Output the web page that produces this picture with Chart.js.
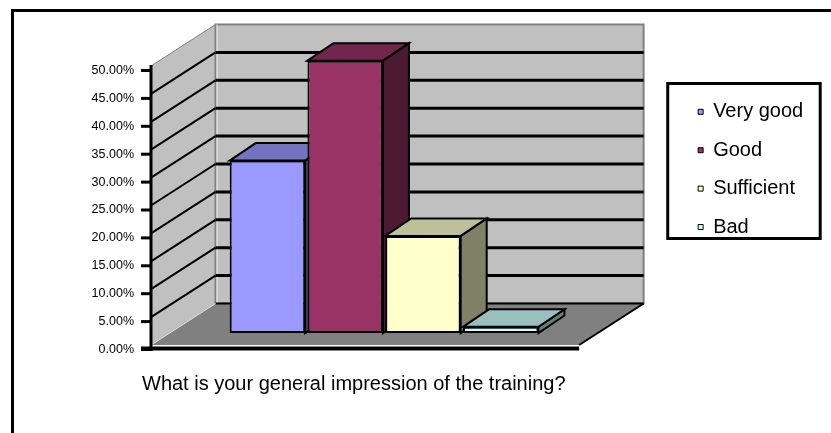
<!DOCTYPE html>
<html>
<head>
<meta charset="utf-8">
<script src="https://cdn.jsdelivr.net/npm/chart.js@4.4.1/dist/chart.umd.min.js"></script>
<style>
  html, body { margin: 0; padding: 0; background: #fff; }
</style>
</head>
<body>
<canvas id="barChart" width="831" height="433"></canvas>
<script>
var question = 'What is your general impression of the training?';
var answers = ['Very good', 'Good', 'Sufficient', 'Bad'];
var shares = [30.9, 48.8, 17.4, 1.1]; // % of answers
var frontColors = ['#9999FF', '#993366', '#FFFFCC', '#CCFFFF'];
var topColors = ['#7373BF', '#73264D', '#BFBF99', '#99BFBF'];
var sideColors = ['#4D4D80', '#4D1A33', '#808066', '#668080'];

// fake 3d, offsets from the plane the columns stand in
var front = { dx: -19, dy: 12 };
var back = { dx: 45.5, dy: -29.5 };
var depth = { dx: 26, dy: -17.5 };

Chart.defaults.font.family = '"Liberation Sans", Arial, sans-serif';
Chart.defaults.color = '#000';

function poly(ctx, pts, fill, stroke, width) {
  ctx.beginPath();
  ctx.moveTo(pts[0][0], pts[0][1]);
  for (var i = 1; i < pts.length; i++) ctx.lineTo(pts[i][0], pts[i][1]);
  ctx.closePath();
  ctx.fillStyle = fill;
  ctx.fill();
  if (stroke) {
    ctx.strokeStyle = stroke;
    ctx.lineWidth = width;
    ctx.lineJoin = 'miter';
    ctx.stroke();
  }
}

function line(ctx, x1, y1, x2, y2, color, width) {
  ctx.beginPath();
  ctx.moveTo(x1, y1);
  ctx.lineTo(x2, y2);
  ctx.strokeStyle = color;
  ctx.lineWidth = width;
  ctx.stroke();
}

var excel3d = {
  id: 'excel3d',
  afterLayout: function(chart) {
    // the axis box is kept narrow so the title can start further left,
    // widen it afterwards so the tick labels are not clipped
    chart.scales.y.left = 0;
  },
  beforeDatasetsDraw: function(chart) {
    var ctx = chart.ctx, area = chart.chartArea, y = chart.scales.y;
    var y0 = y.getPixelForValue(y.min), yTop = y.getPixelForValue(y.max);
    var fl = area.left + front.dx, fr = area.right + front.dx;
    var bl = area.left + back.dx, br = area.right + back.dx;
    ctx.save();

    // walls
    poly(ctx, [[fl, y0 + front.dy], [fl, yTop + front.dy], [bl, yTop + back.dy], [bl, y0 + back.dy]], '#C0C0C0', '#808080', 1);
    poly(ctx, [[bl, yTop + back.dy], [br, yTop + back.dy], [br, y0 + back.dy], [bl, y0 + back.dy]], '#C0C0C0', '#808080', 2);
    line(ctx, bl + 1.5, yTop + back.dy, bl + 1.5, y0 + back.dy, '#F0F0F0', 1);

    y.ticks.forEach(function(t) {
      if (t.value <= y.min || t.value >= y.max) return;
      var py = y.getPixelForValue(t.value);
      line(ctx, bl, py + back.dy, br, py + back.dy, '#000', 3);
      line(ctx, fl, py + front.dy, bl, py + back.dy, '#000', 2);
    });

    // floor
    poly(ctx, [[fl, y0 + front.dy], [fr, y0 + front.dy], [br, y0 + back.dy], [bl, y0 + back.dy]], '#808080');
    line(ctx, bl, y0 + back.dy, br, y0 + back.dy, '#000', 2);
    line(ctx, fr, y0 + front.dy, br, y0 + back.dy, '#000', 2);
    line(ctx, fl, y0 + front.dy, bl, y0 + back.dy, '#E8E8E8', 1);

    // axis line, front edge, tick marks
    line(ctx, fl, yTop + front.dy - 1, fl, y0 + 18, '#000', 3);
    line(ctx, fl - 10, y0 + 15.5, fr, y0 + 15.5, '#000', 4);
    y.ticks.forEach(function(t) {
      var py = y.getPixelForValue(t.value) + y.options.ticks.labelOffset;
      line(ctx, fl - 10, py, fl, py, '#000', 3);
    });

    // column sides and tops, the fronts come from chart.js
    chart.data.datasets.forEach(function(ds, i) {
      var bar = chart.getDatasetMeta(i).data[0];
      var p = bar.getProps(['x', 'y', 'base', 'width'], true);
      var l = p.x - p.width / 2, r = p.x + p.width / 2;
      poly(ctx, [[r, p.y], [r + depth.dx, p.y + depth.dy], [r + depth.dx, p.base + depth.dy], [r, p.base]], sideColors[i], '#000', 2);
      poly(ctx, [[l, p.y], [l + depth.dx, p.y + depth.dy], [r + depth.dx, p.y + depth.dy], [r, p.y]], topColors[i], '#000', 2);
    });
    ctx.restore();
  },
  afterDraw: function(chart) {
    var ctx = chart.ctx, lg = chart.legend;
    ctx.save();
    ctx.strokeStyle = '#000';
    ctx.lineWidth = 3;
    // legend frame
    ctx.strokeRect(lg.left - 12, lg.top + 29.5, lg.right + 7 - (lg.left - 12), 155);
    // outer frame, right and bottom sides fall outside the picture
    ctx.strokeRect(12.5, 10.5, 900, 500);
    ctx.restore();
  }
};

var ctx = document.getElementById('barChart').getContext('2d');
var barChart = new Chart(ctx, {
  type: 'bar',
  data: {
    labels: [question],
    datasets: answers.map(function(name, i) {
      return {
        label: name,
        data: [shares[i]],
        yAxisID: 'y',
        backgroundColor: frontColors[i],
        borderColor: '#000',
        borderWidth: 2,
        borderSkipped: false,
        categoryPercentage: 0.7265,
        barPercentage: 0.971
      };
    })
  },
  options: {
    responsive: false,
    animation: false,
    layout: {
      padding: { left: 142, top: 54, right: 17.8, bottom: 36.5 }
    },
    plugins: {
      tooltip: { enabled: false },
      title: {
        display: true,
        text: question,
        position: 'bottom',
        align: 'start',
        color: '#000',
        font: { size: 20, weight: 'normal' },
        padding: { top: 39.5, bottom: 0 }
      },
      legend: {
        position: 'right',
        align: 'start',
        maxWidth: 200,
        title: { display: true, text: '', font: { size: 10 }, padding: { top: 17.4, bottom: 0 } },
        labels: {
          boxWidth: 5,
          boxHeight: 5,
          padding: 18.4,
          color: '#000',
          font: { size: 20 },
          generateLabels: function(chart) {
            var items = Chart.defaults.plugins.legend.labels.generateLabels(chart);
            items.forEach(function(it) { it.lineWidth = 1; });
            return items;
          }
        }
      }
    },
    scales: {
      x: { display: false },
      y: {
        min: 0,
        max: 50,
        ticks: {
          stepSize: 5,
          labelOffset: 16.5,
          padding: 36,
          color: '#000',
          font: { size: 12.5 },
          callback: function(v) { return v.toFixed(2) + '%'; }
        },
        grid: { display: false, drawTicks: false },
        border: { display: false },
        afterFit: function(s) { s.width = 28; }
      },
      // empty axis, leaves room for the floor depth before the legend
      depthGap: {
        type: 'linear',
        position: 'right',
        display: false,
        afterFit: function(s) { s.width = 81.6; }
      }
    }
  },
  plugins: [excel3d]
});
</script>
</body>
</html>
